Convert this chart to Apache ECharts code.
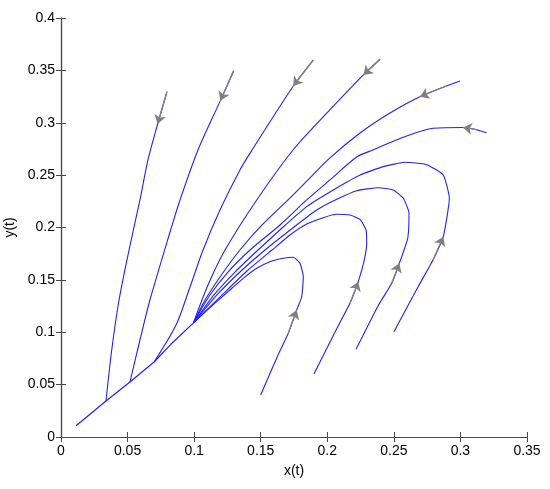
<!DOCTYPE html>
<html>
<head>
<meta charset="utf-8">
<script src="https://cdn.jsdelivr.net/npm/echarts@6/dist/echarts.min.js"></script>
<style>
  html, body { margin: 0; padding: 0; background: #fff; }
  #chart { width: 550px; height: 489px; }
</style>
</head>
<body>
<div id="chart"></div>
<script>
// axis ticks
const xTicks = [0, 0.35, 0.05]
const yTicks = [0, 0.4, 0.05]

// shared path near the origin, every orbit ends along it
const manifold = [[0.0995, 0.109], [0.0825, 0.0885], [0.0699, 0.0716], [0.0518, 0.0525], [0.0338, 0.0344], [0.0113, 0.0108]]

// orbits, listed from their start point
const traj1 = [[0.0796, 0.3297], [0.0726, 0.2988], [0.0653, 0.2645], [0.0593, 0.2263], [0.0511, 0.1785], [0.0436, 0.1308], [0.0381, 0.0831], [0.0338, 0.0344]]
const traj2 = [[0.1297, 0.3497], [0.1197, 0.3211], [0.1029, 0.274], [0.0894, 0.2263], [0.0819, 0.1957], [0.0668, 0.1308], [0.0593, 0.0926], [0.0518, 0.0525]]
const traj3 = [[0.1895, 0.3599], [0.1745, 0.3351], [0.1435, 0.274], [0.1344, 0.2549], [0.1194, 0.2167], [0.1067, 0.1785], [0.0961, 0.1403], [0.0864, 0.1069], [0.0699, 0.0716]]
const traj4 = [[0.2396, 0.3606], [0.2271, 0.3456], [0.2005, 0.3103], [0.1743, 0.274], [0.147, 0.2263], [0.1232, 0.1785], [0.1104, 0.1451], [0.0995, 0.109]]
const traj5 = [[0.2997, 0.3399], [0.2696, 0.3249], [0.2471, 0.3093], [0.2246, 0.2902], [0.202, 0.2664], [0.1833, 0.2425], [0.1705, 0.2263], [0.151, 0.2024], [0.1344, 0.1785], [0.1194, 0.1528], [0.1082, 0.1308], [0.0995, 0.109]]
const traj6 = [[0.3197, 0.2905], [0.3019, 0.2955], [0.2796, 0.2947], [0.2571, 0.2861], [0.2343, 0.274], [0.2221, 0.2673], [0.202, 0.2454], [0.1845, 0.2263], [0.1645, 0.2024], [0.142, 0.1785], [0.1254, 0.1575], [0.1119, 0.1356], [0.0995, 0.109]]
const traj7 = [[0.2501, 0.1005], [0.2681, 0.1432], [0.2794, 0.169], [0.2871, 0.1912], [0.2917, 0.2279], [0.2871, 0.2501], [0.2747, 0.26], [0.2584, 0.2623], [0.2421, 0.2581], [0.2246, 0.2501], [0.2045, 0.2358], [0.1845, 0.2199], [0.166, 0.1995], [0.148, 0.1785], [0.1307, 0.1575], [0.1149, 0.1356], [0.0995, 0.109]]
const traj8 = [[0.2216, 0.0837], [0.2381, 0.1251], [0.2484, 0.1467], [0.2541, 0.1658], [0.2604, 0.1897], [0.2614, 0.2136], [0.2571, 0.2279], [0.2496, 0.2358], [0.2383, 0.238], [0.2221, 0.2351], [0.2071, 0.2269], [0.1921, 0.2167], [0.177, 0.2024], [0.1532, 0.1785], [0.1344, 0.1575], [0.1172, 0.1356], [0.0995, 0.109]]
const traj9 = [[0.19, 0.0601], [0.2066, 0.1022], [0.2171, 0.1279], [0.2233, 0.1483], [0.2278, 0.169], [0.2296, 0.1849], [0.2291, 0.1976], [0.2246, 0.2078], [0.2171, 0.2119], [0.2071, 0.2126], [0.197, 0.2094], [0.1845, 0.2033], [0.172, 0.1928], [0.1585, 0.1785], [0.1405, 0.1594], [0.1232, 0.1384], [0.0995, 0.109]]
const traj10 = [[0.15, 0.0401], [0.163, 0.0783], [0.1707, 0.099], [0.177, 0.1212], [0.1808, 0.1339], [0.182, 0.153], [0.1795, 0.1658], [0.1745, 0.1716], [0.167, 0.1706], [0.157, 0.1674], [0.147, 0.1611], [0.1369, 0.1515], [0.1269, 0.1403], [0.1169, 0.1292], [0.1082, 0.1193], [0.0995, 0.109]]

// gray direction arrows: [from, tip]
const arrows = [
  [[0.0796, 0.3297], [0.0726, 0.2988]],
  [[0.1297, 0.3497], [0.1197, 0.3211]],
  [[0.1895, 0.3599], [0.1745, 0.3351]],
  [[0.2396, 0.3606], [0.2271, 0.3456]],
  [[0.2892, 0.3351], [0.2696, 0.3249]],
  [[0.3132, 0.2931], [0.3019, 0.2955]],
  [[0.2794, 0.169], [0.2871, 0.1912]],
  [[0.2484, 0.1467], [0.2541, 0.1658]],
  [[0.2171, 0.1279], [0.2233, 0.1483]],
  [[0.1707, 0.099], [0.177, 0.1212]]
]

// the curved part of each orbit is smoothed; the straight run into the
// origin is drawn as its own polyline so the corners stay sharp
const orbits = [traj1, traj2, traj3, traj4, traj5, traj6, traj7, traj8, traj9, traj10]

const font = 'Liberation Sans, Arial, sans-serif'
const axisLine = { show: true, lineStyle: { color: '#4a4a4a', width: 1.2 } }
const axisTick = { show: true, inside: true, length: 5, lineStyle: { color: '#4a4a4a' } }

const chart = echarts.init(document.getElementById('chart'))

const option = {
  animation: false,
  grid: { left: 61, right: 23, top: 18, bottom: 52, outerBoundsMode: 'none', containLabel: false },
  xAxis: [
    {
      type: 'value', min: xTicks[0], max: xTicks[1], interval: xTicks[2],
      name: 'x(t)', nameLocation: 'middle', nameGap: 27,
      nameTextStyle: { fontFamily: font, fontSize: 14, color: '#000' },
      axisLine, axisTick, splitLine: { show: false },
      axisLabel: { fontFamily: font, fontSize: 14, color: '#000', margin: 7 }
    },
    {
      type: 'value', position: 'top', min: xTicks[0], max: xTicks[1], interval: xTicks[2],
      axisLine, axisTick, splitLine: { show: false }, axisLabel: { show: false }
    }
  ],
  yAxis: [
    {
      type: 'value', min: yTicks[0], max: yTicks[1], interval: yTicks[2],
      name: 'y(t)', nameLocation: 'middle', nameGap: 44,
      nameTextStyle: { fontFamily: font, fontSize: 14, color: '#000' },
      axisLine, axisTick, splitLine: { show: false },
      axisLabel: { fontFamily: font, fontSize: 14, color: '#000', margin: 6 }
    },
    {
      type: 'value', position: 'right', min: yTicks[0], max: yTicks[1], interval: yTicks[2],
      axisLine, axisTick, splitLine: { show: false }, axisLabel: { show: false }
    }
  ],
  series: orbits.map((pts, i) => ({
    name: 'orbit' + (i + 1),
    type: 'line',
    data: pts,
    showSymbol: false,
    smooth: i < 6 ? 0.3 : 0.15,
    lineStyle: { color: '#2020ff', width: 1.1 },
    z: 2
  })).concat([{
    name: 'manifold',
    type: 'line',
    data: manifold,
    showSymbol: false,
    lineStyle: { color: '#2020ff', width: 1.2 },
    z: 2
  }, {
    type: 'lines',
    coordinateSystem: 'cartesian2d',
    data: arrows.map(a => ({ coords: a })),
    symbol: ['none', 'arrow'],
    symbolSize: [0, 9],
    lineStyle: { color: '#808080', width: 1.3, opacity: 1 },
    z: 3
  }])
}

chart.setOption(option)
</script>
</body>
</html>
